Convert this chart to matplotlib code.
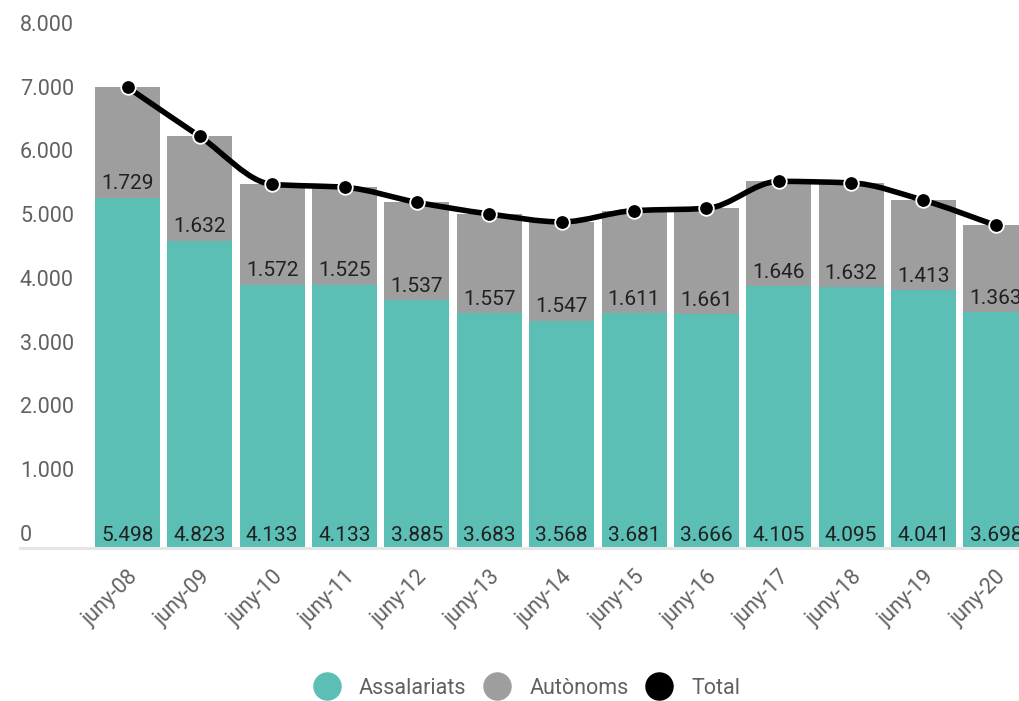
import numpy as np
import matplotlib
matplotlib.use("Agg")
import matplotlib.pyplot as plt
from matplotlib.path import Path
from matplotlib.patches import PathPatch
from matplotlib.lines import Line2D
import matplotlib.transforms as mtransforms

plt.rcParams['font.family'] = ['Roboto', 'DejaVu Sans']

categories = ["juny-08", "juny-09", "juny-10", "juny-11", "juny-12", "juny-13", "juny-14",
              "juny-15", "juny-16", "juny-17", "juny-18", "juny-19", "juny-20"]
assalariats = [5498, 4823, 4133, 4133, 3885, 3683, 3568, 3681, 3666, 4105, 4095, 4041, 3698]
autonoms = [1729, 1632, 1572, 1525, 1537, 1557, 1547, 1611, 1661, 1646, 1632, 1413, 1363]
total = [a + b for a, b in zip(assalariats, autonoms)]
yticks = [0, 1000, 2000, 3000, 4000, 5000, 6000, 7000, 8000]

TEAL = "#5bbfb5"
GRAY = "#9e9e9e"
TXT = "#212121"
TICK = "#616161"

def fmt(v):
    return f"{v:,}".replace(",", ".")

fig = plt.figure(figsize=(10.2, 7.01), dpi=100)
ax = fig.add_axes([20 / 1020, (701 - 548) / 701, 1000 / 1020, (548 - 38) / 701])

x = np.arange(len(categories))
w = 0.898
ax.bar(x, assalariats, width=w, color=TEAL, zorder=2)
ax.bar(x, autonoms, width=w, bottom=assalariats, color=GRAY, zorder=2)

# value labels
for xi, a, b in zip(x, assalariats, autonoms):
    ax.annotate(fmt(a), (xi, 0), xytext=(0, 2), textcoords="offset points",
                ha="center", va="bottom", fontsize=15, color=TXT, zorder=5, clip_on=False)
    ax.annotate(fmt(b), (xi, a), xytext=(0, 3), textcoords="offset points",
                ha="center", va="bottom", fontsize=15, color=TXT, zorder=5, clip_on=False)

# smooth monotone curve for total (rendering only; passes through data points)
xs = x.astype(float)
ys = np.array(total, dtype=float)
d = np.diff(ys) / np.diff(xs)
m = np.zeros_like(ys)
m[0], m[-1] = d[0], d[-1]
for i in range(1, len(ys) - 1):
    if d[i - 1] * d[i] <= 0:
        m[i] = 0
    else:
        m[i] = 2 / (1 / d[i - 1] + 1 / d[i])
verts = [(xs[0], ys[0])]
codes = [Path.MOVETO]
for i in range(len(ys) - 1):
    h = xs[i + 1] - xs[i]
    verts += [(xs[i] + h / 3, ys[i] + m[i] * h / 3),
              (xs[i + 1] - h / 3, ys[i + 1] - m[i + 1] * h / 3),
              (xs[i + 1], ys[i + 1])]
    codes += [Path.CURVE4] * 3
ax.add_patch(PathPatch(Path(verts, codes), fill=False, lw=4.0, edgecolor="black",
                       zorder=3, capstyle="round", joinstyle="round"))
ax.plot(xs, ys, linestyle="none", marker="o", markersize=10.5, markerfacecolor="black",
        markeredgecolor="white", markeredgewidth=1.3, zorder=4)

ax.set_xlim(-1.486, 12.334)
ax.set_ylim(0, 8000)

for s in ["top", "right", "left"]:
    ax.spines[s].set_visible(False)
ax.spines["bottom"].set_color("#e6e6e6")
ax.spines["bottom"].set_linewidth(2.2)

ax.set_yticks([])
trans = mtransforms.blended_transform_factory(ax.transAxes, ax.transData)
for v in yticks:
    ax.annotate(fmt(v), (0, v), xycoords=trans, xytext=(0, 1.5), textcoords="offset points",
                ha="left", va="bottom", fontsize=15.5, color=TICK)

ax.set_xticks(x)
ax.set_xticklabels(categories, rotation=45, ha="right", rotation_mode="anchor",
                   fontsize=15.5, color=TICK)
ax.tick_params(axis="x", length=0, pad=13)

handles = [
    Line2D([], [], linestyle="none", marker="o", markersize=19.5, markerfacecolor=TEAL, markeredgecolor=TEAL),
    Line2D([], [], linestyle="none", marker="o", markersize=19.5, markerfacecolor=GRAY, markeredgecolor=GRAY),
    Line2D([], [], linestyle="none", marker="o", markersize=19.5, markerfacecolor="black", markeredgecolor="black"),
]
leg = fig.legend(handles, ["Assalariats", "Autònoms", "Total"], loc="center",
                 bbox_to_anchor=(527 / 1020, 1 - 688 / 701), ncol=3, frameon=False,
                 fontsize=15.5, handletextpad=0.86, columnspacing=0.81, handlelength=1.25)
for t in leg.get_texts():
    t.set_color("#616161")

fig.savefig("out.png", dpi=100)
